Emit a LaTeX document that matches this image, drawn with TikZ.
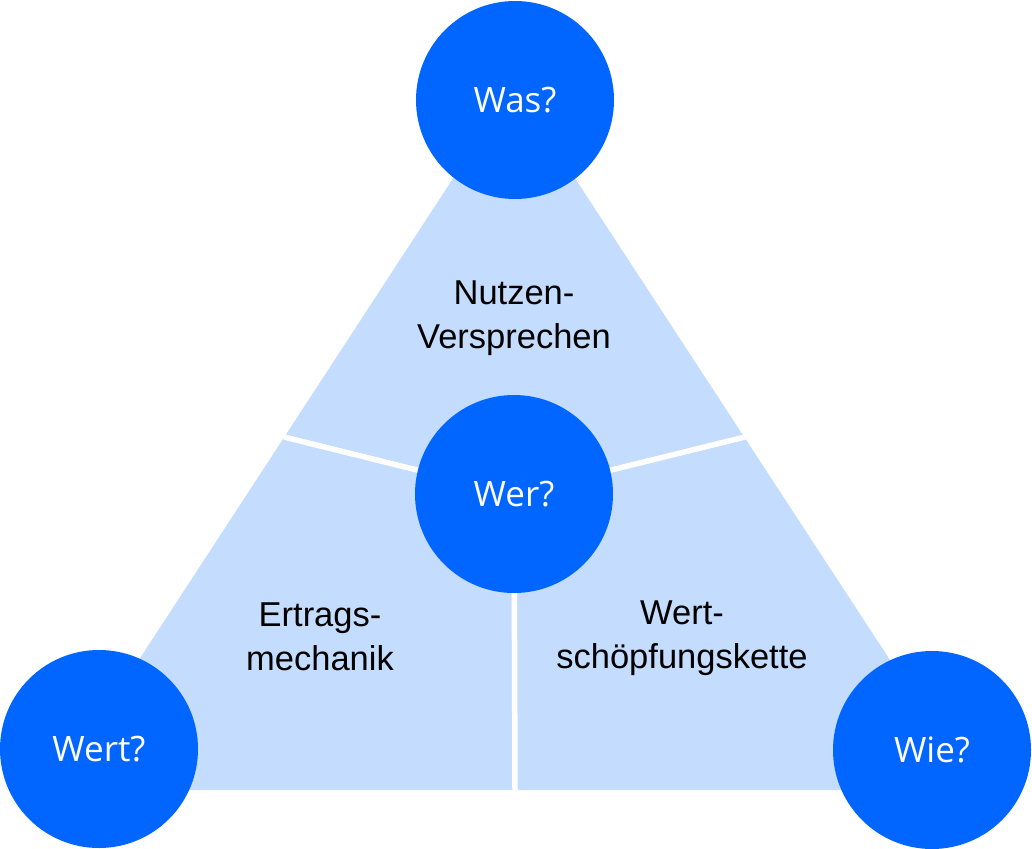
\documentclass[tikz,border=0pt]{standalone}
\usepackage{fontspec}
\setmainfont{Liberation Sans}
\newfontfamily\circfont{Open Sans}
\definecolor{darkblue}{RGB}{0,102,255}
\definecolor{lightblue}{RGB}{196,220,253}
\begin{document}
\begin{tikzpicture}[x=1pt,y=-1pt,
  qcircle/.style={circle,fill=darkblue,inner sep=0pt,minimum size=198pt,text=white,font=\circfont\fontsize{35}{40}\selectfont},
  seglabel/.style={align=center,text=black,font=\fontsize{34.5}{44}\selectfont},
  divider/.style={white,line width=5.5pt}]
\useasboundingbox (0,0) rectangle (1032,848);
% triangle
\coordinate (apex) at (514,85);
\coordinate (bl) at (54,790);
\coordinate (br) at (975,790);
\fill[lightblue] (apex) -- (bl) -- (br) -- cycle;
% divider ends
\coordinate (dl) at (284,437);
\coordinate (dr) at (745,437);
\coordinate (db) at (515,790);
\coordinate (wc) at (514,494);
\draw[divider] (wc) -- (dl);
\draw[divider] (wc) -- (dr);
\draw[divider] (wc) -- (db);
% labels
\node[seglabel] (nutzen) at (514,318) {Nutzen-\\Versprechen};
\node[seglabel] (ertrag) at (320,637) {Ertrags-\\mechanik};
\node[seglabel] (wertsch) at (682,638) {Wert-\\schöpfungskette};
% circles
\node[qcircle] (was) at (515,100) {Was?};
\node[qcircle] (wer) at (514,494) {Wer?};
\node[qcircle] (wert) at (99,749) {Wert?};
\node[qcircle] (wie) at (932,750) {Wie?};
\end{tikzpicture}
\end{document}
